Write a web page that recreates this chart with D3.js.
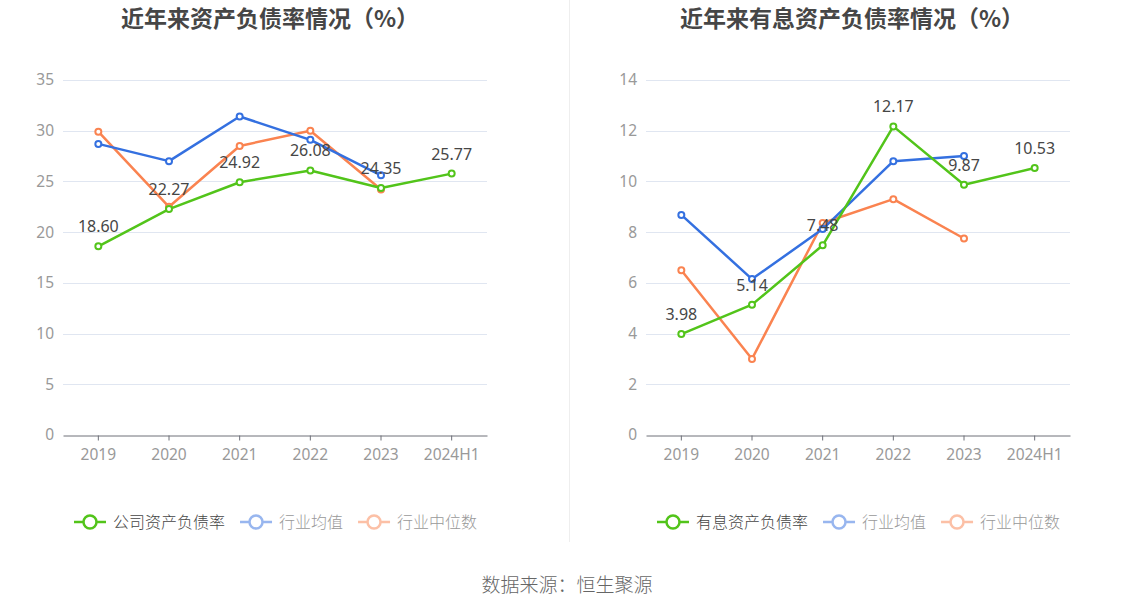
<!DOCTYPE html>
<html>
<head>
<meta charset="utf-8">
<script src="https://cdn.jsdelivr.net/npm/d3@7"></script>
<style>
  body { margin: 0; background: #fff; font-family: "Noto Sans CJK SC", "Noto Sans", sans-serif; }
  svg text { font-family: "Noto Sans CJK SC", "Noto Sans", sans-serif; }
  svg text.num { font-family: "Noto Sans", "DejaVu Sans", sans-serif; }
</style>
</head>
<body>
<svg id="chart" width="1134" height="612"></svg>
<script>
// Categories
const years = ['2019', '2020', '2021', '2022', '2023', '2024H1'];

// Left chart: 资产负债率
const leftCompany = [18.60, 22.27, 24.92, 26.08, 24.35, 25.77];
const leftAvg = [28.7, 27.0, 31.4, 29.1, 25.6, null];
const leftMedian = [29.9, 22.5, 28.5, 30.0, 24.2, null];
const leftTicks = [0, 5, 10, 15, 20, 25, 30, 35];

// Right chart: 有息资产负债率
const rightCompany = [3.98, 5.14, 7.48, 12.17, 9.87, 10.53];
const rightAvg = [8.68, 6.15, 8.12, 10.8, 11.0, null];
const rightMedian = [6.5, 3.0, 8.36, 9.3, 7.75, null];
const rightTicks = [0, 2, 4, 6, 8, 10, 12, 14];

const COLORS = { company: '#52c41a', avg: '#3470e0', median: '#fa8350' };

const svg = d3.select('#chart');

// Divider between the two panels
svg.append('line')
    .attr('x1', 569.5).attr('x2', 569.5)
    .attr('y1', 0).attr('y2', 542)
    .attr('stroke', '#eeeeee').attr('stroke-width', 1);

// Source note
svg.append('text')
    .attr('x', 567).attr('y', 592)
    .attr('text-anchor', 'middle')
    .attr('fill', '#666')
    .style('font-size', '19px')
    .style('font-weight', 300)
    .text('数据来源：恒生聚源');

function drawPanel(opts) {
    const { left, right, title, titleX, ticks, company, avg, median, legendName, legendX } = opts;
    const top = 80, bottom = 435;

    const x = d3.scaleBand().domain(years).range([left, right]);
    const y = d3.scaleLinear().domain([ticks[0], ticks[ticks.length - 1]]).range([bottom, top]);
    const cx = d => x(d) + x.bandwidth() / 2;

    const g = svg.append('g');

    // Title
    g.append('text')
        .attr('x', titleX).attr('y', 27)
        .attr('text-anchor', 'middle')
        .attr('fill', '#464646')
        .style('font-size', '23px')
        .style('font-weight', 'bold')
        .text(title);

    // Grid lines
    g.selectAll('.grid')
        .data(ticks.filter(t => t !== 0))
        .enter().append('line')
        .attr('x1', left).attr('x2', right)
        .attr('y1', d => Math.round(y(d)) + 0.5).attr('y2', d => Math.round(y(d)) + 0.5)
        .attr('stroke', '#e0e6f1');

    // Y labels
    g.selectAll('.ylab')
        .data(ticks)
        .enter().append('text')
        .attr('class', 'num')
        .attr('x', left - 9).attr('y', d => y(d))
        .attr('dy', '0.35em')
        .attr('text-anchor', 'end')
        .attr('fill', '#999')
        .style('font-size', '15.5px')
        .text(d => d);

    // X axis
    const xAxis = d3.axisBottom(x).tickSize(5).tickSizeOuter(0);
    const ax = g.append('g')
        .attr('transform', `translate(0,${Math.round(bottom) + 0.5})`)
        .call(xAxis);
    ax.select('.domain').attr('stroke', '#6e7079');
    ax.selectAll('.tick line').attr('stroke', '#6e7079');
    ax.selectAll('.tick text')
        .attr('class', 'num')
        .attr('fill', '#999')
        .attr('dy', '1.05em')
        .style('font-size', '15.5px');

    const line = d3.line()
        .defined(d => d.v != null)
        .x(d => cx(d.k))
        .y(d => y(d.v));

    const series = [
        { data: median, color: COLORS.median },
        { data: avg, color: COLORS.avg },
        { data: company, color: COLORS.company }
    ];

    series.forEach(s => {
        const pts = years.map((k, i) => ({ k, v: s.data[i] }));
        g.append('path')
            .datum(pts)
            .attr('fill', 'none')
            .attr('stroke', s.color)
            .attr('stroke-width', 2.5)
            .attr('stroke-linejoin', 'round')
            .attr('d', line);
        g.selectAll(null)
            .data(pts.filter(d => d.v != null))
            .enter().append('circle')
            .attr('cx', d => cx(d.k)).attr('cy', d => y(d.v))
            .attr('r', 3)
            .attr('fill', '#fff')
            .attr('stroke', s.color)
            .attr('stroke-width', 2);
    });

    // Value labels for the company series
    g.selectAll('.vlab')
        .data(years.map((k, i) => ({ k, v: company[i] })))
        .enter().append('text')
        .attr('class', 'num')
        .attr('x', d => cx(d.k)).attr('y', d => y(d.v) - 14)
        .attr('text-anchor', 'middle')
        .attr('fill', '#464646')
        .style('font-size', '16px')
        .text(d => d.v.toFixed(2));

    // Legend
    const items = [
        { name: legendName, color: COLORS.company, text: '#464646', op: 1 },
        { name: '行业均值', color: COLORS.avg, text: '#999', op: 0.5 },
        { name: '行业中位数', color: COLORS.median, text: '#999', op: 0.5 }
    ];
    const lg = g.append('g').attr('transform', `translate(${legendX},522)`);
    let off = 0;
    items.forEach(it => {
        const item = lg.append('g').attr('transform', `translate(${off},0)`);
        const icon = item.append('g').attr('opacity', it.op);
        icon.append('line').attr('x1', 0).attr('x2', 32).attr('y1', 0).attr('y2', 0)
            .attr('stroke', it.color).attr('stroke-width', 2.5);
        icon.append('circle').attr('cx', 16).attr('cy', 0).attr('r', 6.5)
            .attr('fill', '#fff').attr('stroke', it.color).attr('stroke-width', 2.5);
        const t = item.append('text').attr('x', 39).attr('y', 0).attr('dy', '0.35em')
            .attr('fill', it.text).style('font-size', '16px').style('font-weight', 300)
            .text(it.name);
        off += 39 + t.node().getComputedTextLength() + 15;
    });
}

drawPanel({
    left: 63, right: 487, title: '近年来资产负债率情况（%）', titleX: 270,
    ticks: leftTicks, company: leftCompany, avg: leftAvg, median: leftMedian,
    legendName: '公司资产负债率', legendX: 74
});

drawPanel({
    left: 646, right: 1070, title: '近年来有息资产负债率情况（%）', titleX: 852,
    ticks: rightTicks, company: rightCompany, avg: rightAvg, median: rightMedian,
    legendName: '有息资产负债率', legendX: 657
});
</script>
</body>
</html>
